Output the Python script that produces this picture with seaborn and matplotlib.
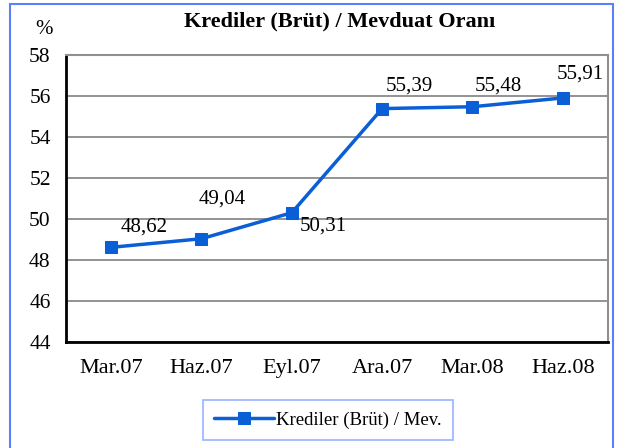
import pandas as pd
import numpy as np
import matplotlib.pyplot as plt
import seaborn as sns
from matplotlib.patches import Rectangle

# Data
periods = ['Mar.07', 'Haz.07', 'Eyl.07', 'Ara.07', 'Mar.08', 'Haz.08']
ratio = [48.62, 49.04, 50.31, 55.39, 55.48, 55.91]
labels = ['48,62', '49,04', '50,31', '55,39', '55,48', '55,91']
series_name = 'Krediler (Brüt) / Mev.'

df = pd.DataFrame({'period': periods, 'ratio': ratio})

sns.set_style('white')
plt.rcParams['font.family'] = ['Liberation Serif', 'DejaVu Serif']
plt.rcParams['text.color'] = 'black'
plt.rcParams['xtick.color'] = 'black'
plt.rcParams['ytick.color'] = 'black'

fig = plt.figure(figsize=(6.18, 4.48), dpi=100)
ax = fig.add_axes([0.1068, 0.2366, 0.877, 0.6404])

line_color = '#0a5fd6'
x = np.arange(len(periods))
sns.lineplot(x=x, y=df['ratio'], ax=ax, color=line_color, linewidth=2.5,
             marker='s', markersize=9, markeredgecolor=line_color,
             label=series_name, legend=False)

ax.set_ylim(44, 58)
ax.set_yticks(np.arange(44, 59, 2))
ax.set_xlim(-0.5, len(periods) - 0.5)
ax.set_xticks(x)
ax.set_xticklabels(periods)
ax.set_xticks(np.arange(-0.5, len(periods)), minor=True)
ax.tick_params(axis='x', which='major', length=0, pad=12, labelsize=16)
ax.tick_params(axis='x', which='minor', length=5, width=1.5, direction='out', color='black')
ax.tick_params(axis='y', length=5, width=1.5, direction='out', labelsize=15.5, color='black', pad=6)
ax.set_xlabel('')
ax.set_ylabel('')
ax.grid(axis='y', color='#808080', linewidth=1.2)
ax.set_axisbelow(True)

for side in ['top', 'right']:
    ax.spines[side].set_color('#909090')
    ax.spines[side].set_linewidth(1.5)
for side in ['left', 'bottom']:
    ax.spines[side].set_color('black')
    ax.spines[side].set_linewidth(2)

# value labels
offsets = [(33, 20), (21, 40), (31, -13), (27, 23), (26, 21), (17, 24)]
for xi, yi, lab, off in zip(x, ratio, labels, offsets):
    ax.annotate(lab, (xi, yi), xytext=off, textcoords='offset pixels',
                ha='center', va='center', fontsize=15)

fig.text(0.071, 0.935, '%', fontsize=15, ha='center', va='center')
fig.text(0.55, 0.952, 'Krediler (Brüt) / Mevduat Oranı', fontsize=16,
         fontweight='bold', ha='center', va='center')

leg = fig.legend(*ax.get_legend_handles_labels(), loc='center',
                 fontsize=13.5, frameon=True, fancybox=False, handlelength=3.2,
                 borderpad=0.6, handletextpad=0.1)
leg.get_frame().set_edgecolor('#7f9fff')
leg.get_frame().set_linewidth(1.2)
leg.set_bbox_to_anchor((0.531, 0.0625), transform=fig.transFigure)

fig.patches.append(Rectangle((10 / 618, -0.05), 603 / 618, 1.05 - 4 / 448,
                             transform=fig.transFigure, fill=False,
                             edgecolor='#5b7fff', linewidth=1.5))

fig.savefig('out.png', dpi=100)
